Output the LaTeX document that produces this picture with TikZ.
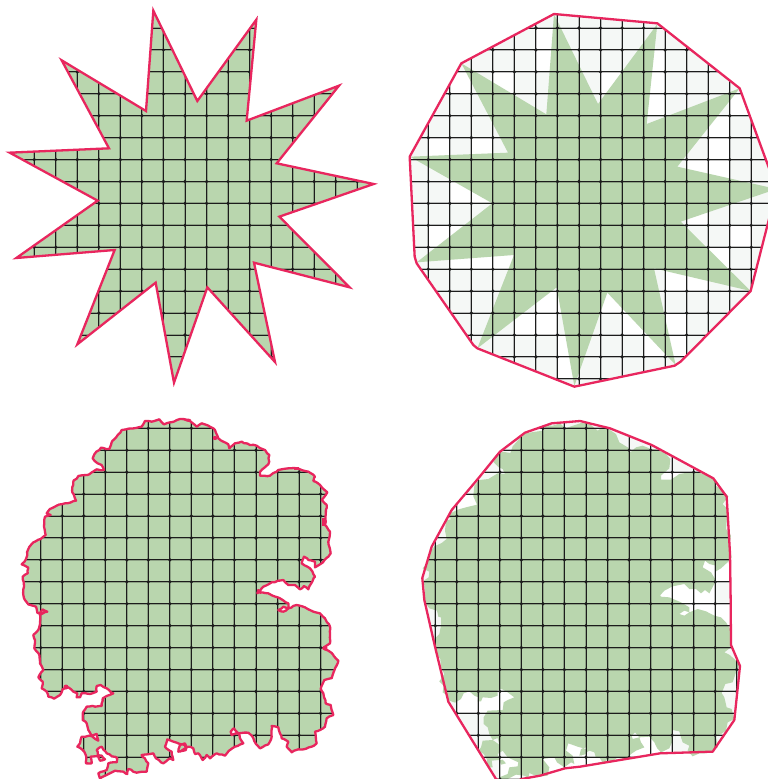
\documentclass[tikz,border=0pt]{standalone}
\usetikzlibrary{decorations.pathmorphing}
\definecolor{leaf}{HTML}{B9D6AE}
\definecolor{edgered}{HTML}{E8265E}
\definecolor{pale}{HTML}{F5F8F6}
\definecolor{gridc}{HTML}{1C1C1C}
\tikzset{
  outline/.style={draw=edgered,line width=2.3pt,line join=round},
  roughline/.style={draw=edgered,line width=2.3pt,line join=round,decorate,decoration={random steps,segment length=3pt,amplitude=0.55pt}},
  griddot/.style={fill=gridc},
  gridsoft/.style={fill=gridc,fill opacity=0.28}
}
% x0 dx nx y0 dy ny
\newcommand\gridlines[6]{%
  \foreach \i in {0,...,#3}{\fill[gridsoft] ({#1+\i*#2-1},0) rectangle ({#1+\i*#2+1},800);\fill[gridc] ({#1+\i*#2-0.5},0) rectangle ({#1+\i*#2+0.5},800);}
  \foreach \j in {0,...,#6}{\fill[gridsoft] (0,{#4+\j*#5-1}) rectangle (800,{#4+\j*#5+1});\fill[gridc] (0,{#4+\j*#5-0.5}) rectangle (800,{#4+\j*#5+0.5});}
  \foreach \i in {0,...,#3}{\foreach \j in {0,...,#6}{\fill[griddot] ({#1+\i*#2},{#4+\j*#5}) circle (1.8pt);}}
}
\def\starA{{[scale=1/3] (460,32) -- (592,303) -- (769,59) -- (740,362) -- (1017,257) -- (830,490) -- (1121,552) -- (838,650) -- (1049,862) -- (762,788) -- (825,1086) -- (622,862) -- (522,1148) -- (467,848) -- (232,1033) -- (344,750) -- (49,774) -- (293,602) -- (29,458) -- (327,445) -- (185,181) -- (438,333) -- cycle}}
\def\starB{{[shift={(384,0)},scale=1/3] (510,42) -- (642,312) -- (820,72) -- (788,372) -- (1067,265) -- (880,500) -- (1178,567) -- (890,665) -- (1100,873) -- (810,805) -- (875,1095) -- (670,878) -- (571,1158) -- (518,862) -- (280,1045) -- (390,765) -- (98,787) -- (325,610) -- (78,470) -- (372,458) -- (232,190) -- (487,343) -- cycle}}
\def\hullB{{[shift={(384,0)},scale=1/3] (510,42) -- (820,70) -- (1067,265) -- (1178,567) -- (1100,873) -- (890,1085) -- (872,1097) -- (571,1160) -- (280,1045) -- (268,1035) -- (98,790) -- (92,770) -- (77,470) -- (232,190) -- cycle}}
\def\hullD{(422.3,578) {[shift={(410,410)},scale=1/3] -- (65,410) -- (125,300) -- (205,205) -- (270,125) -- (345,68) -- (425,40) -- (510,33)} {[shift={(580,410)},scale=1/3] -- (90,55) -- (215,105) -- (280,140) -- (400,205) -- (440,260) -- (450,430) -- (452,570)} {[shift={(580,590)},scale=1/3] -- (453,165) -- (480,228) -- (463,390) -- (398,485) -- (240,490) -- (0,530)} {[shift={(410,590)},scale=1/3] -- (465,535) -- (390,557) -- (335,567) -- (300,585) -- (258,567) -- (115,335) -- (75,170) -- (43,30)} -- cycle}
\def\blobA{(190,420) {[shift={(0,405)},scale=1/3] -- (540,42) -- (510,52) -- (492,58) -- (478,43) -- (455,50) -- (435,48) -- (425,65) -- (385,71) -- (365,75) -- (350,95) -- (335,112) -- (328,132) -- (303,128) -- (283,148) -- (278,160) -- (293,175) -- (305,180) -- (312,195) -- (290,193) -- (262,210) -- (235,213) -- (220,230) -- (217,262) -- (228,287) -- (195,295) -- (170,302) -- (150,312) -- (140,325) -- (152,330) -- (135,335) -- (132,365) -- (137,390) -- (122,402) -- (100,412) -- (85,432) -- (78,462) -- (65,478) -- (85,488) -- (83,505) -- (68,515) -- (72,545) -- (70,570)}
{[shift={(0,590)},scale=1/3] -- (72,25) -- (85,43) -- (108,50) -- (112,68) -- (125,72) -- (142,65) -- (128,58) -- (120,70) -- (120,95) -- (115,120) -- (100,135) -- (105,150) -- (103,175) -- (118,195) -- (120,220) -- (130,240) -- (115,262) -- (128,275) -- (125,295) -- (140,305) -- (145,320) -- (162,326) -- (180,315) -- (188,298) -- (205,292) -- (220,305) -- (232,310) -- (230,322) -- (240,322) -- (245,310) -- (270,312) -- (290,305) -- (290,288) -- (302,285) -- (320,295) -- (340,310) -- (320,318) -- (308,325) -- (305,348) -- (260,350) -- (248,370) -- (248,390) -- (260,400) -- (265,420) -- (275,438) -- (290,432) -- (295,452) -- (275,438) -- (245,440) -- (240,460) -- (232,470) -- (248,480) -- (258,497) -- (258,520) -- (275,520) -- (272,500) -- (305,497) -- (315,508) -- (300,512) -- (290,480) -- (305,470) -- (320,490) -- (352,505) -- (350,517) -- (325,520) -- (320,540) -- (295,550) -- (300,565) -- (320,555) -- (345,542) -- (370,545) -- (382,552) -- (385,537) -- (410,548) -- (440,545) -- (445,520) -- (425,495) -- (460,490) -- (468,505) -- (490,520) -- (510,505) -- (520,510) -- (515,485) -- (495,470) -- (502,448) -- (530,458) -- (555,465) -- (558,480) -- (535,485)}
{[shift={(180,590)},scale=1/3] -- (0,465) -- (15,460) -- (18,475) -- (0,485) -- (25,470) -- (40,475) -- (45,492) -- (55,490) -- (68,510) -- (80,495) -- (90,505) -- (110,490) -- (135,497) -- (150,480) -- (165,470) -- (190,460) -- (180,445) -- (175,430) -- (155,435) -- (152,425) -- (162,415) -- (175,430) -- (205,428) -- (220,445) -- (228,462) -- (240,475) -- (265,463) -- (275,440) -- (275,408) -- (295,412) -- (300,430) -- (305,445) -- (325,455) -- (320,470) -- (335,487) -- (355,478) -- (370,478) -- (395,470) -- (410,460) -- (405,425) -- (420,420) -- (435,410) -- (440,385) -- (460,375) -- (452,345) -- (437,340) -- (430,310) -- (422,297) -- (433,270) -- (455,265) -- (465,235) -- (475,212) -- (460,195) -- (445,182) -- (430,175) -- (450,160) -- (450,110) -- (435,85) -- (420,70) -- (400,65) -- (375,52) -- (350,45) -- (325,55) -- (310,65) -- (295,60) -- (310,50) -- (325,55) -- (325,40) -- (300,25) -- (265,10) -- (240,8) -- (235,0)}
{[shift={(180,405)},scale=1/3] -- (232,565) -- (250,545) -- (275,532) -- (310,525) -- (325,540) -- (345,540) -- (360,553) -- (372,543) -- (385,553) -- (405,515) -- (390,490) -- (365,475) -- (372,455) -- (385,465) -- (405,470) -- (405,487) -- (420,478) -- (445,455) -- (452,445) -- (445,410) -- (450,380) -- (435,360) -- (440,300) -- (425,285) -- (442,262) -- (420,240) -- (400,228) -- (405,215) -- (385,200) -- (350,190) -- (325,190) -- (295,195) -- (270,212) -- (240,212) -- (240,200) -- (265,178) -- (268,150) -- (255,135) -- (230,122) -- (210,120) -- (185,110) -- (165,115) -- (148,130) -- (145,118) -- (115,100) -- (105,75) -- (85,62) -- (65,55) -- (50,65) -- (30,48) -- (10,42)} -- cycle}
\begin{document}
\begin{tikzpicture}[x=1pt,y=-1pt]
\useasboundingbox (0,0) rectangle (768,779);
\clip (0,0) rectangle (768,779);
\fill[white] (0,0) rectangle (768,779);
\pgfmathsetseed{7}
% top left
\fill[leaf] \starA;
\begin{scope}
  \clip \starA;
  \gridlines{34.3}{21.53}{15}{28}{21.93}{15}
\end{scope}
\draw[outline,miter limit=8,line join=miter] \starA;
% top right
\fill[pale] \hullB;
\begin{scope}
  \clip \hullB;
  \foreach \c/\r in {5/0,5/1,10/1,1/2,3/2,8/2,10/2,10/3,13/4,14/3,0/5,2/5,13/5,12/6,13/6,1/7,2/7,12/8,0/9,1/9,14/9,1/10,2/10,3/10,13/10,11/11,12/11,5/12,6/12,8/12,9/12,4/13,5/13,9/13,10/13,11/13,6/14,10/14,11/14,6/15}
    {\fill[white] ({428.3+\c*21.53},{28+\r*21.93}) rectangle ++(21.53,21.93);}
\end{scope}
\fill[leaf] \starB;
\begin{scope}
  \clip \hullB;
  \gridlines{428.3}{21.53}{15}{28}{21.93}{16}
\end{scope}
\draw[outline] \hullB;
% bottom left
\fill[leaf] \blobA;
\begin{scope}
  \clip \blobA;
  \gridlines{40.7}{21.53}{13}{428.3}{21.93}{15}
\end{scope}
\draw[roughline] \blobA;
\fill[edgered] (322,518) rectangle (326,526);
\fill[edgered] (294,467) rectangle (299,470);
\fill[edgered] (215,438) circle (2.2);
\fill[edgered] (66,687) circle (2.5);
\fill[edgered] (325,648) circle (2.5);
% bottom right
\fill[pale] \hullD;
\begin{scope}
  \clip \hullD;
  \foreach \c/\r in {1/3,11/2,10/2,13/6,12/6,10/7,11/7,12/7,11/8,12/8,13/8,1/12,2/12,3/12,9/14,10/14,3/15,5/15,6/15,6/14,7/15}
    {\fill[white] ({435.3+\c*21.53},{428.3+\r*21.93}) rectangle ++(21.53,21.93);}
\end{scope}
\fill[leaf,shift={(401,4)}] \blobA;
\begin{scope}
  \clip \hullD;
  \gridlines{435.3}{21.53}{14}{428.3}{21.93}{16}
\end{scope}
\draw[outline] \hullD;
\end{tikzpicture}
\end{document}
